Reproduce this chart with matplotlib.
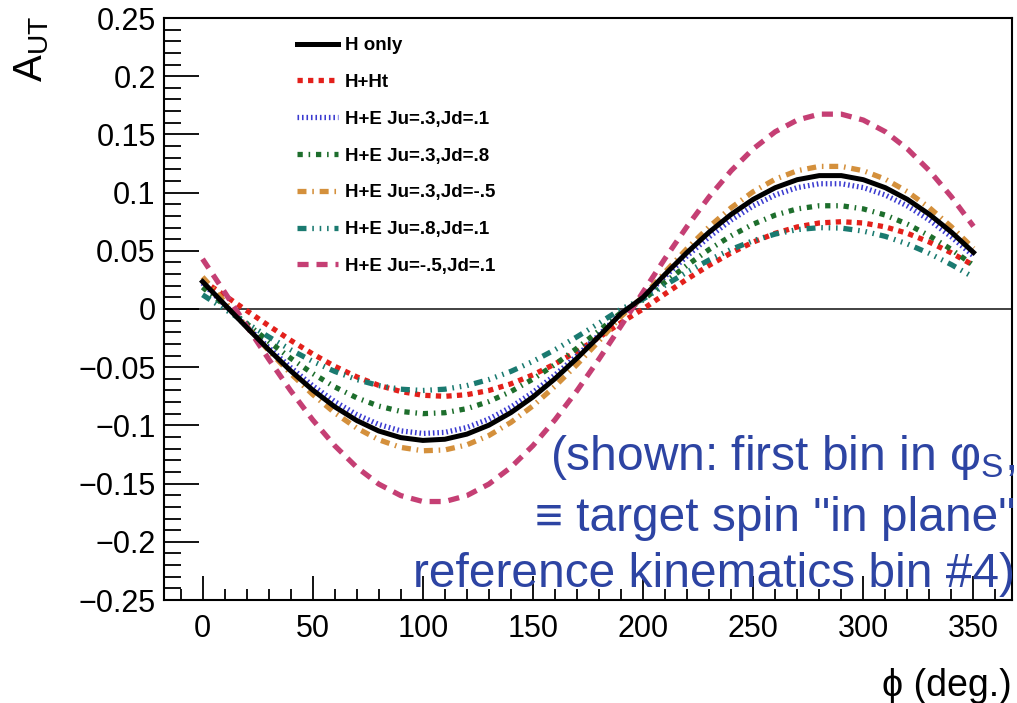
import matplotlib
matplotlib.use('Agg')
import matplotlib.pyplot as plt
import matplotlib.ticker as ticker
import numpy as np

plt.rcParams['font.family'] = ['Liberation Sans', 'DejaVu Sans']
plt.rcParams['mathtext.fontset'] = 'custom'
plt.rcParams['mathtext.rm'] = 'Liberation Sans'

phi = [0, 10, 20, 30, 40, 50, 60, 70, 80, 90, 100, 110, 120, 130, 140, 150, 160, 170,
       180, 190, 200, 210, 220, 230, 240, 250, 260, 270, 280, 290, 300, 310, 320, 330, 340, 350]

h_only = [0.0235, 0.0039, -0.0157, -0.0349, -0.0531, -0.0696, -0.0840, -0.0958, -0.1048, -0.1105,
          -0.1129, -0.1119, -0.1075, -0.0998, -0.0890, -0.0756, -0.0599, -0.0423, -0.0235, -0.0039,
          0.0100, 0.0298, 0.0486, 0.0660, 0.0813, 0.0942, 0.1042, 0.1111, 0.1146, 0.1146,
          0.1111, 0.1042, 0.0942, 0.0813, 0.0660, 0.0486]
h_ht = [0.0244, 0.0117, -0.0013, -0.0143, -0.0269, -0.0386, -0.0492, -0.0583, -0.0656, -0.0709,
        -0.0741, -0.0750, -0.0736, -0.0700, -0.0643, -0.0566, -0.0472, -0.0364, -0.0244, -0.0117,
        0.0000, 0.0130, 0.0257, 0.0375, 0.0482, 0.0575, 0.0650, 0.0705, 0.0739, 0.0750,
        0.0739, 0.0705, 0.0650, 0.0575, 0.0482, 0.0375]
he_3_1 = [0.0222, 0.0037, -0.0149, -0.0331, -0.0502, -0.0659, -0.0795, -0.0907, -0.0992, -0.1047,
          -0.1069, -0.1060, -0.1018, -0.0945, -0.0843, -0.0716, -0.0567, -0.0401, -0.0222, -0.0037,
          0.0094, 0.0280, 0.0456, 0.0619, 0.0764, 0.0885, 0.0979, 0.1043, 0.1076, 0.1076,
          0.1043, 0.0979, 0.0885, 0.0764, 0.0619, 0.0456]
he_3_8 = [0.0187, 0.0031, -0.0125, -0.0278, -0.0423, -0.0554, -0.0669, -0.0763, -0.0834, -0.0880,
          -0.0899, -0.0891, -0.0856, -0.0795, -0.0709, -0.0602, -0.0477, -0.0337, -0.0187, -0.0031,
          0.0078, 0.0230, 0.0376, 0.0511, 0.0629, 0.0729, 0.0807, 0.0860, 0.0887, 0.0887,
          0.0860, 0.0807, 0.0729, 0.0629, 0.0511, 0.0376]
he_3_m5 = [0.0275, 0.0064, -0.0149, -0.0357, -0.0554, -0.0734, -0.0892, -0.1023, -0.1123, -0.1189,
           -0.1218, -0.1211, -0.1167, -0.1087, -0.0974, -0.0832, -0.0664, -0.0477, -0.0275, -0.0064,
           0.0107, 0.0318, 0.0520, 0.0706, 0.0870, 0.1008, 0.1115, 0.1188, 0.1225, 0.1225,
           0.1188, 0.1115, 0.1008, 0.0870, 0.0706, 0.0520]
he_8_1 = [0.0122, 0.0000, -0.0122, -0.0239, -0.0350, -0.0450, -0.0536, -0.0606, -0.0658, -0.0689,
          -0.0700, -0.0689, -0.0658, -0.0606, -0.0536, -0.0450, -0.0350, -0.0239, -0.0122, 0.0000,
          0.0085, 0.0205, 0.0318, 0.0421, 0.0512, 0.0587, 0.0644, 0.0682, 0.0699, 0.0695,
          0.0669, 0.0624, 0.0559, 0.0477, 0.0381, 0.0273]
he_m5_1 = [0.0430, 0.0145, -0.0145, -0.0430, -0.0702, -0.0952, -0.1174, -0.1360, -0.1504, -0.1603,
           -0.1654, -0.1654, -0.1603, -0.1504, -0.1360, -0.1174, -0.0952, -0.0702, -0.0430, -0.0145,
           0.0146, 0.0435, 0.0710, 0.0964, 0.1188, 0.1376, 0.1523, 0.1623, 0.1674, 0.1674,
           0.1623, 0.1523, 0.1376, 0.1188, 0.0964, 0.0710]

fig = plt.figure(figsize=(10.17, 7.03), dpi=100)
ax = fig.add_axes([164/1017, 103/703, 848/1017, 582/703])

ax.axhline(0, color='#333333', lw=1.3, zorder=1)

ax.plot(phi, h_only, color='black', lw=3.6, label='H only', zorder=3)
ax.plot(phi, h_ht, color='#e3201b', lw=3.8, linestyle=(0, (1, 1)), label='H+Ht')
ax.plot(phi, he_3_1, color='#3b3bd0', lw=3.8, linestyle=(0, (0.3, 0.55)), label='H+E Ju=.3,Jd=.1')
ax.plot(phi, he_3_8, color='#1d6e2c', lw=3.8, linestyle=(0, (1, 1.1, 0.3, 1.1)), label='H+E Ju=.3,Jd=.8')
ax.plot(phi, he_3_m5, color='#d4903c', lw=3.8, linestyle=(0, (1.7, 1.1, 0.3, 1.1)), label='H+E Ju=.3,Jd=-.5')
ax.plot(phi, he_8_1, color='#1a7a70', lw=3.8,
        linestyle=(0, (1.7, 1.1, 0.3, 1.1, 0.3, 1.1, 0.3, 1.1)), label='H+E Ju=.8,Jd=.1')
ax.plot(phi, he_m5_1, color='#c53f74', lw=3.8, linestyle=(0, (2.1, 1.5)), label='H+E Ju=-.5,Jd=.1')

ax.set_xlim(-17.5, 367.5)
ax.set_ylim(-0.25, 0.25)

ax.xaxis.set_major_locator(ticker.MultipleLocator(50))
ax.xaxis.set_minor_locator(ticker.MultipleLocator(10))
ax.yaxis.set_major_locator(ticker.MultipleLocator(0.05))
ax.yaxis.set_minor_locator(ticker.MultipleLocator(0.01))
ax.yaxis.set_major_formatter(ticker.FuncFormatter(lambda v, _: ('%g' % round(v, 3)).replace('-', '\u2212')))

for s in ax.spines.values():
    s.set_linewidth(1.5)
ax.tick_params(axis='y', which='major', direction='in', length=25, width=1.3, labelsize=22, pad=6, right=False)
ax.tick_params(axis='y', which='minor', direction='in', length=12, width=1.3, right=False)
ax.tick_params(axis='x', which='major', direction='in', length=17, width=1.3, labelsize=22, pad=10, top=False)
ax.tick_params(axis='x', which='minor', direction='in', length=8, width=1.3, top=False)

leg = ax.legend(loc='upper left', bbox_to_anchor=((297 - 164) / 848, (600 - 37) / 582),
                frameon=False, borderpad=0, borderaxespad=0, handlelength=2.2, handletextpad=0.35,
                labelspacing=1.05, prop={'size': 13.5, 'weight': 'bold'})

fig.text(32/1017, 1 - 16/703, r'$\mathregular{A_{UT}}$', rotation=90, ha='center', va='top', fontsize=29)
fig.text(1012/1017, 1 - 696/703, '\u03d5 (deg.)', ha='right', va='baseline', fontsize=27)

blue = '#2d44a3'
fig.text(1015/1017, 1 - 470/703, r'(shown: first bin in φ$_\mathregular{S}$,', ha='right', va='baseline',
         fontsize=34.5, color=blue)
fig.text(1015/1017, 1 - 531/703, '\u2261 target spin "in plane"', ha='right', va='baseline',
         fontsize=34.5, color=blue)
fig.text(1015/1017, 1 - 587/703, 'reference kinematics bin #4)', ha='right', va='baseline',
         fontsize=34.5, color=blue)

fig.savefig('out.png', dpi=100)
